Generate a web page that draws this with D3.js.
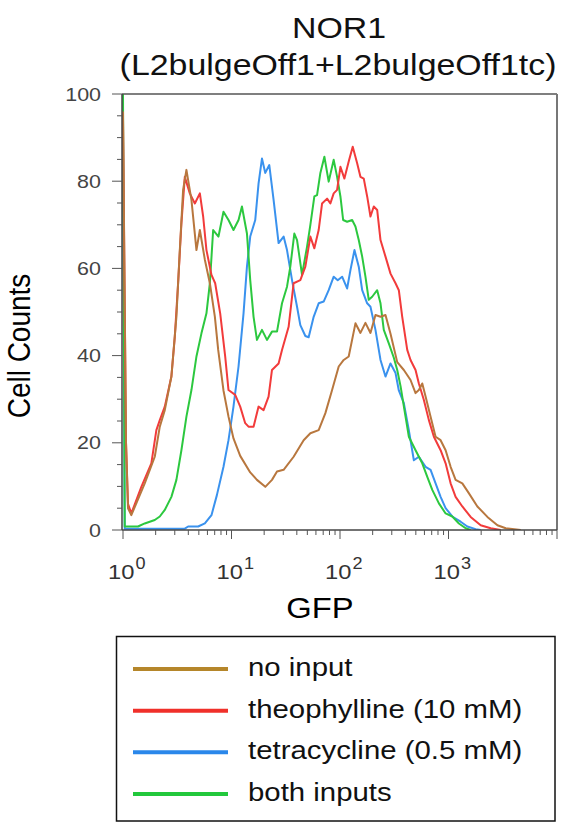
<!DOCTYPE html>
<html><head><meta charset="utf-8">
<script src="https://cdn.jsdelivr.net/npm/d3@7"></script>
<style>
body{margin:0;background:#fff}
svg{display:block}
text{font-family:"Liberation Sans",Arial,Helvetica,sans-serif}
</style>
</head><body>
<svg id="chart" width="564" height="823"></svg>
<script>
// ---------------- data ----------------
const titleLines = ["NOR1", "(L2bulgeOff1+L2bulgeOff1tc)"];
const xAxisLabel = "GFP";
const yAxisLabel = "Cell Counts";
const yTickValues = [0, 20, 40, 60, 80, 100];
const xDecadeExponents = [0, 1, 2, 3];
const seriesNames = ["no input", "theophylline (10 mM)", "tetracycline (0.5 mM)", "both inputs"];

// no input (brown)
const noInputGFP = [1.000, 1.066, 1.112, 1.193, 1.586, 1.962, 2.183, 2.427, 2.793, 3.106, 3.339, 3.581, 3.842, 4.273, 4.753, 5.109, 5.681, 6.318, 7.028, 7.540, 8.436, 9.383, 10.43, 12.03, 14.88, 17.16, 20.48, 23.61, 26.26, 30.22, 37.37, 46.23, 53.32, 63.60, 73.34, 84.56, 97.3, 108.2, 120.3, 138.8, 154.3, 171.6, 190.9, 212.3, 236.2, 262.6, 292.1, 336.9, 387.6, 446.8, 496.9, 533.2, 573.1, 614.9, 683.8, 760.3, 845.7, 940.6, 1046, 1163, 1341, 1544, 1845, 2283, 2824, 3369, 4634];
const noInputCounts = [96, 20, 5, 3.4, 10.7, 16.8, 23.7, 27.5, 35.2, 48.9, 64.2, 78, 82.6, 75.7, 64.2, 68.8, 62, 56.6, 48.9, 41.3, 32, 26, 21, 17, 13.2, 11.5, 9.9, 11.5, 13.4, 13.8, 16.8, 20.6, 22.2, 22.9, 26.8, 32.1, 37.5, 39, 39.8, 47.4, 45.2, 47.5, 45.2, 49.3, 48.9, 49.3, 45, 38.5, 36.7, 34.4, 31.4, 32.1, 33.6, 30.6, 26, 21.4, 20.6, 18.3, 14.5, 11.5, 10.7, 8.4, 5.4, 3.0, 1.1, 0.4, 0];

// theophylline (red)
const theoGFP = [1.000, 1.066, 1.112, 1.193, 1.476, 1.825, 2.030, 2.183, 2.427, 2.793, 3.002, 3.220, 3.454, 3.713, 4.129, 4.594, 5.109, 5.480, 5.877, 6.539, 7.072, 7.866, 8.745, 9.383, 10.82, 12.03, 13.38, 14.35, 15.97, 17.76, 19.75, 21.96, 23.61, 27.17, 29.21, 33.61, 37.37, 43.09, 47.93, 53.32, 58.03, 63.60, 68.37, 76.03, 81.53, 87.48, 94.04, 100.9, 109.8, 120.3, 131.0, 143.9, 154.3, 165.6, 178.0, 190.9, 204.8, 220.1, 236.2, 262.6, 292.1, 324.9, 348.5, 374.6, 416.6, 446.8, 496.9, 533.2, 592.9, 659.4, 733.3, 845.7, 940.6, 1046, 1163, 1341, 1600, 1980, 2448, 3028];
const theoCounts = [94, 20, 6, 3.8, 9.9, 15.3, 22.9, 25.2, 28.3, 35.2, 44.3, 56.6, 70.3, 81, 77.2, 74.9, 77.2, 71.9, 64.2, 58.5, 56.6, 49.7, 39.8, 32.1, 31, 28.3, 24.5, 23.7, 23.7, 28.3, 27.5, 30.6, 36.7, 38.2, 41.3, 46.6, 56.6, 57.3, 60.4, 67.3, 64.6, 68.8, 74.9, 76, 74.9, 77.2, 78, 83.3, 80.6, 84.5, 87.9, 84.1, 81, 80.6, 76.5, 71.9, 74.2, 73.4, 66.5, 62.7, 58.8, 56.6, 55, 48.9, 41.3, 39, 36.7, 33.6, 29.8, 25.2, 21.4, 18.3, 15.3, 10.7, 7.6, 5.4, 3.0, 1.1, 0.4, 0];

// tetracycline (blue)
const tetraGFP = [1.000, 1.037, 3.713, 3.984, 4.928, 5.681, 6.539, 7.334, 8.436, 9.383, 10.43, 11.61, 12.91, 13.88, 14.88, 16.55, 17.76, 19.09, 20.48, 22.30, 24.43, 27.17, 30.22, 32.48, 36.13, 40.18, 43.09, 47.93, 51.42, 57.19, 63.60, 70.73, 78.66, 87.48, 95.26, 104.6, 116.3, 124.8, 135.9, 148.9, 160.1, 178.0, 190.9, 212.3, 236.2, 262.6, 292.1, 324.9, 348.5, 387.6, 430.9, 479.3, 533.2, 614.9, 683.8, 760.3, 845.7, 940.6, 1084, 1294, 1492, 1780, 1980];
const tetraCounts = [90, 0.3, 0.3, 0.8, 0.8, 1.5, 3.4, 8, 14.5, 20.6, 28.3, 37.5, 49.7, 60.4, 67.3, 71.1, 79.5, 85.2, 81.9, 83.7, 75.7, 65.8, 67.3, 64.2, 57.3, 51.2, 47, 44.5, 44.2, 48.9, 52, 52.4, 55, 58.1, 57.3, 58.1, 55.4, 59.6, 64.2, 60.4, 55, 52, 51.2, 45.9, 39, 35.2, 38.2, 36, 32, 29.1, 22.9, 16, 16.8, 14.5, 13.8, 10.7, 7.6, 5, 3.1, 1.9, 0.8, 0.2, 0];

// both inputs (green)
const bothGFP = [1.000, 1.037, 1.375, 1.586, 1.962, 2.183, 2.427, 2.793, 3.106, 3.454, 3.842, 4.273, 4.753, 5.284, 5.877, 6.318, 6.776, 7.586, 8.436, 9.383, 10.43, 11.61, 12.48, 13.88, 14.88, 15.97, 17.16, 19.09, 21.23, 23.61, 26.26, 29.21, 32.48, 34.84, 37.94, 40.18, 44.68, 49.70, 53.32, 58.03, 61.45, 65.93, 71.79, 78.66, 87.48, 94.04, 100.9, 106.9, 116.3, 129.4, 138.8, 148.9, 160.1, 171.6, 184.1, 197.9, 220.1, 236.2, 253.3, 281.7, 313.3, 336.9, 361.4, 401.8, 430.9, 496.9, 573.1, 637.5, 708.9, 815.6, 940.6, 1084, 1248, 1439, 1600];
const bothCounts = [100, 0.8, 0.8, 1.5, 2.3, 3.1, 4.6, 7.6, 11.5, 18.3, 26, 32.1, 39.8, 45.1, 49.7, 56.6, 68.8, 67.3, 73, 71.1, 68.8, 71.1, 74.2, 68, 57.3, 48.9, 43.6, 45.9, 43.6, 45.5, 45.5, 52, 55.8, 60.4, 68, 66.5, 58.5, 65, 70, 76.5, 76.8, 81.9, 85.6, 79.9, 84.9, 81, 76.5, 71.1, 70.7, 71.1, 69.6, 66.5, 62.7, 58.1, 52.8, 53.5, 55, 52, 45.9, 42.8, 39.5, 36.7, 33, 26, 21.4, 18.3, 15.3, 12.2, 9.2, 6.1, 3.8, 3.1, 1.5, 0.4, 0];

// ---------------- drawing ----------------
const SX = 1.13;                       // horizontal stretch of the reference's lettering
const plotColors   = ["#b8773e", "#f23b3b", "#3a92ee", "#2cc83f"];
const legendColors = ["#b5862a", "#f0302a", "#2a87ea", "#22c83c"];
const series = [
  {name: seriesNames[0], gfp: noInputGFP, counts: noInputCounts, color: plotColors[0], order: 3},
  {name: seriesNames[1], gfp: theoGFP,    counts: theoCounts,    color: plotColors[1], order: 2},
  {name: seriesNames[2], gfp: tetraGFP,   counts: tetraCounts,   color: plotColors[2], order: 0},
  {name: seriesNames[3], gfp: bothGFP,    counts: bothCounts,    color: plotColors[3], order: 1}
];

const svg = d3.select("#chart");
const M = {left: 122, right: 557, top: 94, bottom: 530};
const x = d3.scaleLog().domain([1, 1e4]).range([123, M.right]);
const y = d3.scaleLinear().domain([0, 100]).range([M.bottom, M.top]);

function stretched(parent, tx, ty, str, size, anchor, fill, rot) {
  const g = parent.append("g")
    .attr("transform", `translate(${tx},${ty}) scale(${SX},1)` + (rot ? ` rotate(${rot})` : ""));
  return g.append("text").attr("text-anchor", anchor || "start")
    .attr("font-size", size).attr("fill", fill || "#000").text(str);
}

// title
stretched(svg, 339, 38, titleLines[0], 30, "middle", "#111");
stretched(svg, 338, 75, titleLines[1], 30, "middle", "#111");

// clip for curves
svg.append("clipPath").attr("id", "plotclip").append("rect")
  .attr("x", M.left).attr("y", M.top).attr("width", M.right - M.left).attr("height", M.bottom - M.top);

// curves
const line = d3.line().x(d => x(d[0])).y(d => y(d[1]));
const curveG = svg.append("g").attr("clip-path", "url(#plotclip)");
series.slice().sort((a, b) => a.order - b.order).forEach(s => {
  const pts = s.gfp.map((g, i) => [g, s.counts[i]]);
  curveG.append("path").datum(pts).attr("d", line)
    .attr("fill", "none").attr("stroke", s.color).attr("stroke-width", 2)
    .attr("stroke-linejoin", "round");
});

// frame (top & right)
svg.append("line").attr("x1", M.left).attr("x2", M.right).attr("y1", M.top).attr("y2", M.top)
  .attr("stroke", "#555").attr("stroke-width", 1.5);
svg.append("line").attr("x1", M.right).attr("x2", M.right).attr("y1", M.top).attr("y2", M.bottom)
  .attr("stroke", "#777").attr("stroke-width", 2);

// y axis
const yMinor = d3.range(0, 101, 5);
const yAxisG = svg.append("g").attr("transform", `translate(${M.left},0)`);
yAxisG.append("line").attr("y1", M.top).attr("y2", M.bottom).attr("stroke", "#444").attr("stroke-width", 1.5);
yAxisG.selectAll("line.tk").data(yMinor).join("line").attr("class", "tk")
  .attr("x1", d => yTickValues.includes(d) ? -10 : -5).attr("x2", 0)
  .attr("y1", d => y(d)).attr("y2", d => y(d))
  .attr("stroke", "#555").attr("stroke-width", 1);
yTickValues.forEach(v => {
  stretched(svg, 101, y(v) + 6.5, String(v), 19, "end", "#444");
});

// x axis
const xAxisG = svg.append("g").attr("transform", `translate(0,${M.bottom})`);
xAxisG.append("line").attr("x1", M.left).attr("x2", M.right).attr("stroke", "#444").attr("stroke-width", 1.5);
const xTickVals = x.ticks();                        // 1..9 per decade up to 10^4
xAxisG.selectAll("line.tk").data(xTickVals).join("line").attr("class", "tk")
  .attr("x1", d => x(d)).attr("x2", d => x(d))
  .attr("y1", 0).attr("y2", d => Math.abs(Math.log10(d) - Math.round(Math.log10(d))) < 1e-9 ? 9 : 5)
  .attr("stroke", "#555").attr("stroke-width", 1);
xDecadeExponents.forEach(e => {
  const tx = x(Math.pow(10, e));
  const t = stretched(svg, tx - 15, 579, "10", 21, "start", "#333");
  t.append("tspan").attr("dy", -10).attr("dx", 1).attr("font-size", 16).text(String(e));
});

// axis titles
stretched(svg, 320, 618, xAxisLabel, 29, "middle", "#000");
stretched(svg, 30, 346, yAxisLabel, 28, "middle", "#000", -90);

// legend
const legG = svg.append("g");
legG.append("rect").attr("x", 116.5).attr("y", 636.5).attr("width", 438.5).attr("height", 184.5)
  .attr("fill", "none").attr("stroke", "#111").attr("stroke-width", 1.5);
const legY = d3.scaleLinear().domain([0, 3]).range([669, 794]);
seriesNames.forEach((n, i) => {
  legG.append("line").attr("x1", 133).attr("x2", 228).attr("y1", legY(i)).attr("y2", legY(i))
    .attr("stroke", legendColors[i]).attr("stroke-width", 4);
  stretched(legG, 248, legY(i) + 7, n, 26, "start", "#111");
});
</script>
</body></html>
